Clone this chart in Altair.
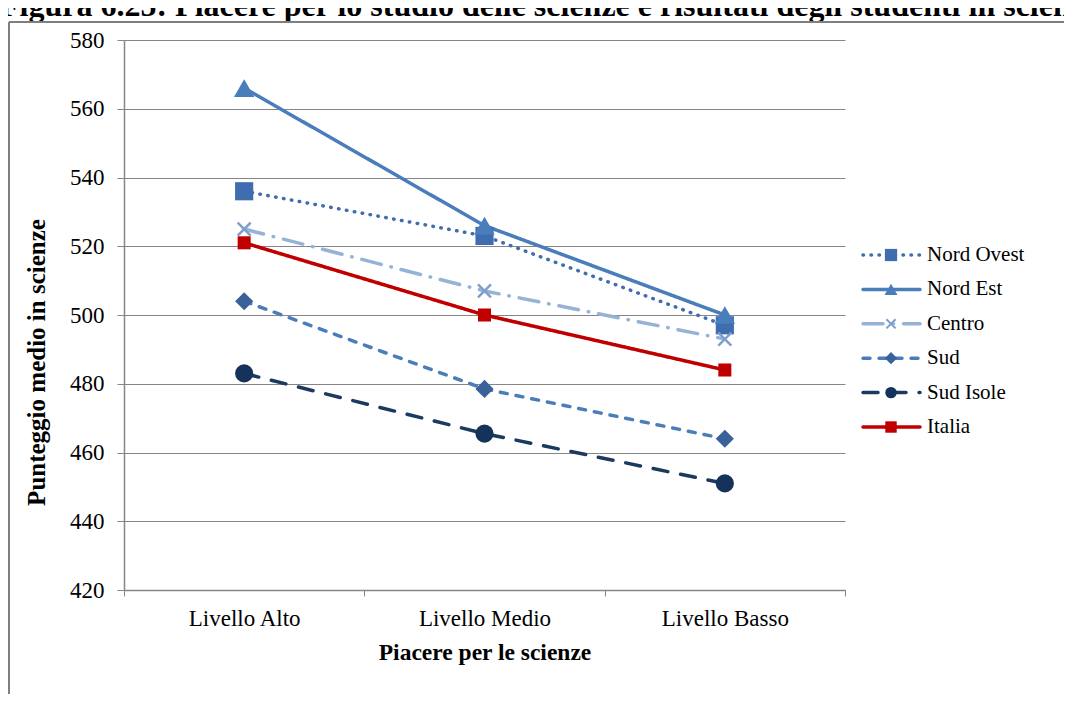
import altair as alt
import pandas as pd

# ---- data ----
livelli = ["Livello Alto", "Livello Medio", "Livello Basso"]
serie = ["Nord Ovest", "Nord Est", "Centro", "Sud", "Sud Isole", "Italia"]
nord_ovest = [536, 523, 497]
nord_est = [566, 526, 500]
centro = [525, 507, 493]
sud = [504, 478.5, 464]
sud_isole = [483, 465.5, 451]
italia = [521, 500, 484]
y_ticks = [420, 440, 460, 480, 500, 520, 540, 560, 580]

titolo = "Figura 6.25: Piacere per lo studio delle scienze e risultati degli studenti in scienze"
titolo_x = "Piacere per le scienze"
titolo_y = "Punteggio medio in scienze"

# ---- styles ----
line_colors = ["#3F6DAF", "#4A7EBB", "#95B3D7", "#4A7EBB", "#1B3A60", "#C00000"]
marker_colors = ["#3F6DAF", "#4A7EBB", "#7E9FCE", "#3A6199", "#15325A", "#C00000"]
dashes = [[0.5, 7.5], [1, 0], [20, 10, 0.5, 10], [7, 9], [15, 13], [1, 0]]
x_path = "M-0.75,-0.75L0.75,0.75M-0.75,0.75L0.75,-0.75"
shapes = ["square", "triangle-up", x_path, "diamond", "circle", "square"]
marker_sizes = [330, 420, 300, 330, 330, 170]
legend_sizes = [150, 170, 150, 150, 130, 130]
FONT = "Liberation Serif"
GRAY = "#868686"

values = [nord_ovest, nord_est, centro, sud, sud_isole, italia]
rows = []
for s, vals in zip(serie, values):
    for i, (lv, v) in enumerate(zip(livelli, vals)):
        rows.append({"Serie": s, "Livello": lv, "Punteggio": v, "ord": i})
df = pd.DataFrame(rows)

leg = pd.DataFrame({"Serie": serie, "row": list(range(len(serie)))})

stroke_enc = alt.Stroke("Serie:N", scale=alt.Scale(domain=serie, range=line_colors), legend=None)
dash_enc = alt.StrokeDash("Serie:N", scale=alt.Scale(domain=serie, range=dashes), legend=None)

x_enc = alt.X(
    "Livello:N",
    sort=livelli,
    scale=alt.Scale(type="band", domain=livelli, paddingInner=0, paddingOuter=0),
    axis=alt.Axis(
        title=titolo_x,
        labelAngle=0,
        tickBand="extent",
        tickSize=6,
        tickColor=GRAY,
        domainColor=GRAY,
        domainWidth=1.5,
        labelFont=FONT,
        labelFontSize=23,
        labelColor="black",
        labelPadding=11,
        titleFont=FONT,
        titleFontSize=23.5,
        titleFontWeight="bold",
        titleColor="black",
        titlePadding=10,
        grid=False,
    ),
)
y_enc = alt.Y(
    "Punteggio:Q",
    scale=alt.Scale(domain=[420, 580], nice=False, zero=False),
    axis=alt.Axis(
        title=titolo_y,
        values=y_ticks,
        tickSize=7,
        tickColor=GRAY,
        domainColor=GRAY,
        domainWidth=1.5,
        gridColor=GRAY,
        gridWidth=1,
        labelFont=FONT,
        labelFontSize=23,
        labelColor="black",
        labelPadding=13,
        titleFont=FONT,
        titleFontSize=25,
        titleFontWeight="bold",
        titleColor="black",
        titlePadding=20,
        titleY=322,
    ),
)

base = alt.Chart(df)
lines = base.mark_line(strokeWidth=3.5, strokeCap="round").encode(
    x=x_enc, y=y_enc, stroke=stroke_enc, strokeDash=dash_enc, detail="Serie:N",
    order=alt.Order("ord:Q"),
)

point_layers = []
legend_point_layers = []
leg_y = alt.Y("row:Q", scale=alt.Scale(domain=[-6.25, 9.738], reverse=True, nice=False, zero=False), axis=None)
lbase = alt.Chart(leg)
for s, shp, col, sz, lsz in zip(serie, shapes, marker_colors, marker_sizes, legend_sizes):
    if s == "Centro":
        mk = dict(shape=shp, filled=False, stroke=col, strokeWidth=2.5, opacity=1)
        lmk = dict(shape=shp, filled=False, stroke=col, strokeWidth=2, opacity=1)
    else:
        mk = dict(shape=shp, filled=True, fill=col, strokeWidth=0, opacity=1)
        lmk = dict(shape=shp, filled=True, fill=col, strokeWidth=0, opacity=1)
    point_layers.append(
        base.transform_filter(alt.datum.Serie == s)
        .mark_point(size=sz, **mk)
        .encode(x="Livello:N", y="Punteggio:Q")
    )
    legend_point_layers.append(
        lbase.transform_filter(alt.datum.Serie == s)
        .mark_point(size=lsz, **lmk)
        .encode(x=alt.value(767), y=leg_y)
    )

main = alt.layer(lines, *point_layers)

# ---- custom legend ----
leg_lines = lbase.mark_rule(strokeWidth=3.5, strokeCap="round").encode(
    x=alt.value(739), x2=alt.value(796), y=leg_y, stroke=stroke_enc, strokeDash=dash_enc
)
leg_text = lbase.mark_text(align="left", baseline="middle", font=FONT, fontSize=21, color="black").encode(
    x=alt.value(803), y=leg_y, text="Serie:N"
)
legend = alt.layer(leg_lines, *legend_point_layers, leg_text)

# ---- decorations: clipped page title and outer frame ----
one = pd.DataFrame({"t": [titolo]})
title_mark = alt.Chart(one).mark_text(
    align="left", baseline="alphabetic", font=FONT, fontSize=32, fontWeight="bold", color="black"
).encode(x=alt.value(-124), y=alt.value(-24), text="t:N")
frame_v = alt.Chart(one).mark_rule(color="#7F7F7F", strokeWidth=2).encode(
    x=alt.value(-115), y=alt.value(-18), y2=alt.value(700)
)
frame_h = alt.Chart(one).mark_rule(color="#7F7F7F", strokeWidth=2).encode(
    x=alt.value(-115), x2=alt.value(1000), y=alt.value(-18)
)
deco = alt.layer(title_mark, frame_v, frame_h)

chart = (
    alt.layer(main, legend, deco)
    .resolve_scale(y="independent")
    .properties(
        width=721,
        height=550,
        autosize=alt.AutoSizeParams(type="none"),
        padding={"left": 116, "top": 32, "right": 219, "bottom": 104},
        background="white",
    )
    .configure_view(strokeWidth=0)
)

chart.save("out.html", embed_options={"renderer": "svg", "actions": False})
